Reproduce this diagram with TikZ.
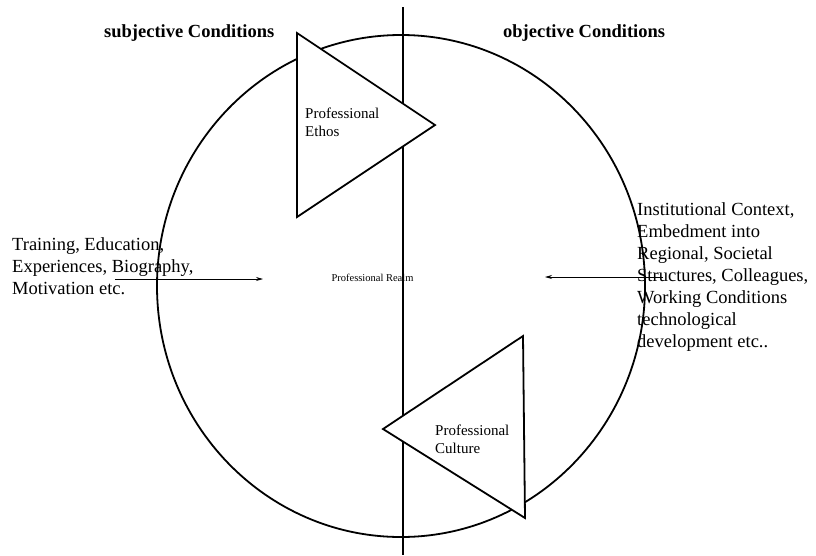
\documentclass[tikz,border=0pt]{standalone}
\usepackage{fontspec}
\setmainfont{Liberation Serif}
\usetikzlibrary{arrows.meta}
\begin{document}
\begin{tikzpicture}[x=1pt,y=-1pt,
  heading/.style={font=\fontsize{18.5}{22}\selectfont\bfseries, inner sep=0pt, anchor=west},
  sidetext/.style={font=\fontsize{18.5}{22}\selectfont, align=left, inner sep=0pt, anchor=west},
  tritext/.style={font=\fontsize{15}{18}\selectfont, align=left, inner sep=0pt, anchor=west},
  realmtext/.style={font=\fontsize{10.5}{12}\selectfont, inner sep=0pt},
  shapeline/.style={line width=1.8pt, line join=miter},
  pointer/.style={line width=0.8pt, -{Stealth[length=7pt,width=4pt]}}]
\useasboundingbox (0,0) rectangle (816,555);
% circle and divider
\draw[shapeline] (401,286) ellipse [x radius=244, y radius=251];
\coordinate (vtop) at (403,7);
\coordinate (vbot) at (403,555);
\draw[line width=1.3pt] (vtop) -- (vbot);
% triangles
\draw[shapeline, fill=white] (297,33) -- (435,125) -- (297,217) -- cycle;
\draw[shapeline, fill=white] (523,336) -- (383,429) -- (525,518) -- cycle;
% headings
\node[heading] (subj) at (104,33) {subjective Conditions};
\node[heading] (obj) at (503,33) {objective Conditions};
% triangle texts
\node[tritext] (ethos) at (305,122) {Professional\\Ethos};
\node[tritext] (culture) at (435,439) {Professional\\Culture};
% centre
\node[realmtext] (realm) at (372.5,278) {Professional Realm};
% side texts
\node[sidetext] (left) at (12,266) {Training, Education,\\Experiences, Biography,\\Motivation etc.};
\node[sidetext] (right) at (637,277.5) {Institutional Context,\\Embedment into\\Regional, Societal\\Structures, Colleagues,\\Working Conditions\\technological\\development etc..};
% arrows
\coordinate (lstart) at (115,279);
\coordinate (lend) at (263,279);
\coordinate (rstart) at (663,277);
\coordinate (rend) at (545,277);
\draw[pointer] (lstart) -- (lend);
\draw[pointer] (rstart) -- (rend);
\end{tikzpicture}
\end{document}
